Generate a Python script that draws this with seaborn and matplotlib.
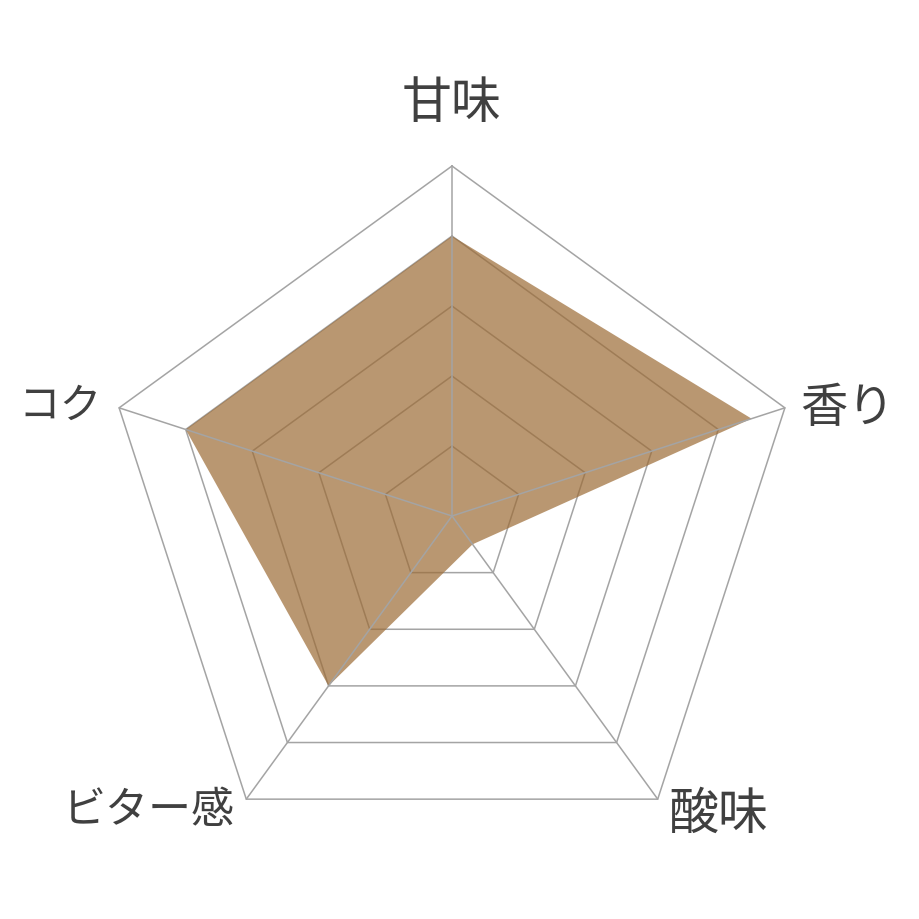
import numpy as np
import pandas as pd
import matplotlib
matplotlib.use("Agg")
import matplotlib.pyplot as plt
import seaborn as sns

categories = ["甘味", "香り", "酸味", "ビター感", "コク"]
values = [4.0, 4.5, 0.5, 3.0, 4.0]
levels = [1, 2, 3, 4, 5]

sns.set_theme(style="white")
plt.rcParams['font.family'] = ['Noto Sans CJK JP', 'DejaVu Sans']

n = len(categories)
angles = np.pi / 2 - np.arange(n) * 2 * np.pi / n
df = pd.DataFrame({"cat": categories, "val": values, "ang": angles})
df["x"] = df["val"] * np.cos(df["ang"])
df["y"] = df["val"] * np.sin(df["ang"])

fig = plt.figure(figsize=(9.2, 9.2), dpi=100)
ax = fig.add_axes([0, 0, 1, 1])
ax.set_xlim(-452 / 70, 468 / 70)
ax.set_ylim(-403 / 70, 517 / 70)
ax.set_aspect('equal')
ax.axis('off')

grid_col = "#a4a4a4"
# rings
for lv in levels:
    xs = np.append(lv * np.cos(angles), lv * np.cos(angles[0]))
    ys = np.append(lv * np.sin(angles), lv * np.sin(angles[0]))
    ax.plot(xs, ys, color=grid_col, lw=1.1, zorder=1)

# filled data polygon
ax.fill(np.append(df["x"], df["x"].iloc[0]), np.append(df["y"], df["y"].iloc[0]),
        color="#9c6b35", alpha=0.7, lw=0, zorder=2)

# spokes
for a in angles:
    ax.plot([0, levels[-1] * np.cos(a)], [0, levels[-1] * np.sin(a)],
            color=grid_col, lw=1.1, zorder=3)

label_pos = {
    "甘味": (0.0, 5.9, "center", 36),
    "香り": (4.97, 1.55, "left", 34),
    "酸味": (3.09, -4.26, "left", 36),
    "ビター感": (-3.1, -4.2, "right", 31),
    "コク": (-5.0, 1.58, "right", 30),
}
for c in categories:
    x, y, ha, fs = label_pos[c]
    ax.text(x, y, c, ha=ha, va="center", fontsize=fs, color="#404040")

fig.savefig("out.png", dpi=100, facecolor="white")
